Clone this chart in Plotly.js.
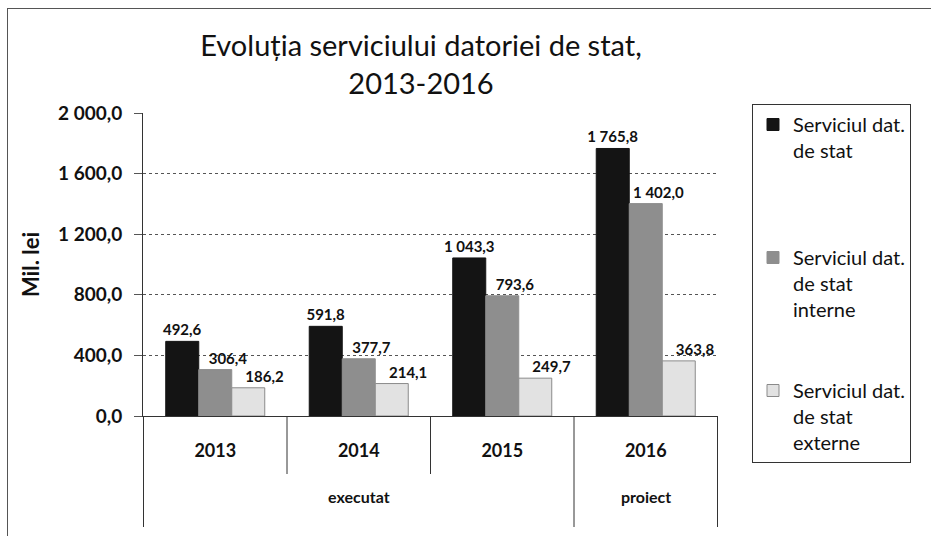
<!DOCTYPE html>
<html>
<head>
<meta charset="utf-8">
<script src="https://cdn.plot.ly/plotly-3.0.1.min.js"></script>
<style>
  html, body { margin: 0; padding: 0; background: #fff; overflow: hidden; }
  #chart { width: 931px; height: 536px; }
  #frame { position: absolute; left: 7px; top: 8px; width: 940px; height: 540px;
           border: 1px solid #555; pointer-events: none; }
</style>
</head>
<body>
<div id="chart"></div>
<div id="frame"></div>
<script>
// Ani si etapa (executat / proiect)
const years = ['2013', '2014', '2015', '2016'];
const stage = ['executat', 'executat', 'executat', 'proiect'];

// Mil. lei
const serviciuTotal = [492.6, 591.8, 1043.3, 1765.8];
const serviciuIntern = [306.4, 377.7, 793.6, 1402.0];
const serviciuExtern = [186.2, 214.1, 249.7, 363.8];

const seriesNames = [
    'Serviciul dat.<br>de stat<br>\u00a0',
    'Serviciul dat.<br>de stat<br>interne',
    'Serviciul dat.<br>de stat<br>externe'
];
const seriesColors = ['#141414', '#8e8e8e', '#e2e2e2'];
const yTicks = [0, 400, 800, 1200, 1600, 2000];

const fontFam = 'Lato, "Open Sans", sans-serif';

// etichetele seriilor 2 si 3 sunt deplasate spre dreapta, ca in Excel
const labelPad = ['', '\u00a0'.repeat(7), '\u00a0'.repeat(9)];

const traces = [serviciuTotal, serviciuIntern, serviciuExtern].map((vals, i) => ({
    type: 'bar',
    x: years,
    y: vals,
    name: seriesNames[i],
    legendgroup: 'g' + i,
    marker: { color: seriesColors[i], line: { color: i === 2 ? '#8a8a8a' : seriesColors[i], width: 1 } },
    texttemplate: labelPad[i] + '%{y:,.1f}',
    textposition: 'outside',
    constraintext: 'none',
    cliponaxis: false,
    textfont: { family: fontFam, size: 15, weight: 'bold', color: '#111' },
    hoverinfo: 'x+y'
}));

// Plot area in pixels
const W = 931, H = 536;
const m = { l: 143, r: 213, t: 113, b: 120 };
const plotH = H - m.t - m.b;
const toPaperY = py => (H - m.b - py) / plotH;

// Linii despartitoare sub axa X
const shapes = [];
for (let i = 0; i <= years.length; i++) {
    const outer = i === 0 || i === years.length || stage[i] !== stage[i - 1];
    shapes.push({
        type: 'line', xref: 'x', yref: 'paper',
        x0: i - 0.5, x1: i - 0.5,
        y0: 0, y1: outer ? toPaperY(527) : toPaperY(474),
        line: { color: '#333', width: 1 }
    });
}

// Etichete de grup (executat / proiect)
const groups = [...new Set(stage)];
const annotations = groups.map(g => {
    const idx = stage.map((s, i) => s === g ? i : -1).filter(i => i >= 0);
    const mid = idx.reduce((a, b) => a + b, 0) / idx.length;
    return {
        xref: 'x', yref: 'paper', x: mid, y: toPaperY(508),
        text: g, showarrow: false,
        font: { family: fontFam, size: 16, weight: 'bold', color: '#111' }
    };
});

const layout = {
    width: W,
    height: H,
    margin: m,
    separators: ', ',
    paper_bgcolor: '#fff',
    plot_bgcolor: '#fff',
    font: { family: fontFam, color: '#111' },
    title: {
        text: 'Evoluția serviciului datoriei de stat,<br>2013-2016',
        font: { family: fontFam, size: 29, color: '#111' },
        xref: 'container', x: 421 / W, xanchor: 'center',
        yref: 'container', y: 1 - 56 / H, yanchor: 'middle'
    },
    barmode: 'group',
    bargap: 0.31,
    bargroupgap: 0,
    xaxis: {
        type: 'category',
        showline: true, linecolor: '#333', linewidth: 1,
        showgrid: false, ticks: '',
        ticklabelstandoff: 18,
        tickfont: { family: fontFam, size: 18, weight: 'bold', color: '#111' },
        fixedrange: true
    },
    yaxis: {
        range: [0, 2000],
        tickvals: yTicks,
        tickformat: ',.1f',
        showline: true, linecolor: '#333', linewidth: 1,
        showgrid: true, gridcolor: '#555', griddash: 'dot', gridwidth: 1,
        zeroline: false,
        ticks: 'outside', ticklen: 8, tickcolor: '#555',
        ticklabelstandoff: 8,
        tickfont: { family: fontFam, size: 19, weight: 'bold', color: '#111' },
        title: {
            text: 'Mil. lei',
            font: { family: fontFam, size: 22, weight: 'bold', color: '#111' },
            standoff: 12
        },
        fixedrange: true
    },
    legend: {
        xref: 'container', yref: 'container',
        x: 752 / W, y: 1 - 104 / H,
        xanchor: 'left', yanchor: 'top',
        bordercolor: '#333', borderwidth: 1,
        bgcolor: '#fff',
        font: { family: fontFam, size: 20, color: '#111' },
        valign: 'top',
        tracegroupgap: 52,
        itemwidth: 30,
        maxheight: 440
    },
    shapes: shapes,
    annotations: annotations
};

window.Plotly.newPlot('chart', traces, layout, { staticPlot: true, displayModeBar: false });
</script>
</body>
</html>
